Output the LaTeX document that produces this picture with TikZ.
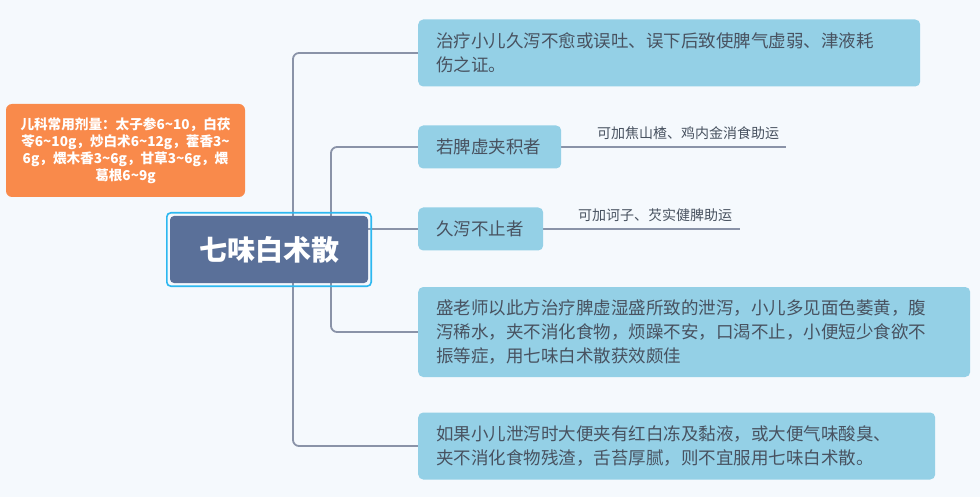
\documentclass[tikz,border=0pt]{standalone}
\usepackage{fontspec}
\setmainfont{Noto Sans CJK SC}
\usetikzlibrary{backgrounds}
\definecolor{bgc}{RGB}{245,249,253}
\definecolor{boxblue}{RGB}{148,208,230}
\definecolor{txt}{RGB}{72,82,96}
\definecolor{connc}{RGB}{138,147,168}
\definecolor{orng}{RGB}{249,138,75}
\definecolor{navy}{RGB}{90,112,153}
\definecolor{selc}{RGB}{45,184,240}
\tikzset{
  topic/.style={fill=boxblue, rounded corners=5pt, text=txt, font=\fontsize{17.5}{24}\selectfont, inner xsep=18pt, inner ysep=0pt, align=left, anchor=west},
  conn/.style={draw=connc, line width=1.8pt, rounded corners=6pt},
  note/.style={text=txt, font=\fontsize{14}{16}\selectfont, inner sep=0pt},
  dose/.style={fill=orng, rounded corners=6pt, text=white, font=\bfseries\fontsize{13.6}{17}\selectfont, align=center, inner sep=0pt},
  central/.style={fill=navy, rounded corners=4pt, text=white, font=\bfseries\fontsize{28}{30}\selectfont, inner sep=0pt},
  selframe/.style={draw=selc, line width=1.6pt, rounded corners=4pt}
}
\begin{document}
\begin{tikzpicture}[x=1pt,y=-1pt]
\begin{pgfonlayer}{background}
\fill[bgc] (0,0) rectangle (980,497);
\end{pgfonlayer}
\useasboundingbox (0,0) rectangle (980,497);

\node[dose, text width=229pt, minimum width=239pt, minimum height=93pt] (o) at (125.5,150.5)
  {儿科常用剂量：太子参6\textasciitilde10，白茯\\苓6\textasciitilde10g，炒白术6\textasciitilde12g，藿香3\textasciitilde\\6g，煨木香3\textasciitilde6g，甘草3\textasciitilde6g，煨\\葛根6\textasciitilde9g};

\node[central, minimum width=198pt, minimum height=67pt] (c) at (269,249.5) {七味白术散};
\draw[selframe] ([xshift=-3pt,yshift=-3pt]c.south west) rectangle ([xshift=3pt,yshift=3pt]c.north east);

\node[topic, text width=466pt, minimum height=67pt] (b1) at (418,53)
  {治疗小儿久泻不愈或误吐、误下后致使脾气虚弱、津液耗\\伤之证。};
\node[topic, text width=107pt, minimum height=43pt] (b2) at (418,147) {若脾虚夹积者};
\node[topic, text width=89pt, minimum height=43pt] (b3) at (418,229) {久泻不止者};
\node[topic, text width=516pt, minimum height=90pt] (b4) at (418,332)
  {盛老师以此方治疗脾虚湿盛所致的泄泻，小儿多见面色萎黄，腹\\泻稀水，夹不消化食物，烦躁不安，口渴不止，小便短少食欲不\\振等症，用七味白术散获效颇佳};
\node[topic, text width=481pt, minimum height=67pt] (b5) at (418,446)
  {如果小儿泄泻时大便夹有红白冻及黏液，或大便气味酸臭、\\夹不消化食物残渣，舌苔厚腻，则不宜服用七味白术散。};

\node[note] (l1) at (688,133) {可加焦山楂、鸡内金消食助运};
\node[note] (l2) at (655,215) {可加诃子、芡实健脾助运};

\coordinate (tx1) at (293,0);
\coordinate (tx2) at (331,0);
\coordinate (e1) at (786,0);
\coordinate (e2) at (740,0);

\begin{pgfonlayer}{background}
\draw[conn] (b1.west) -- (b1.west -| tx1) -- (b5.west -| tx1) -- (b5.west);
\draw[conn] (b2.west) -- (b2.west -| tx2) -- (b4.west -| tx2) -- (b4.west);
\draw[conn] (c.east |- b3.west) -- (b3.west);
\draw[conn] (b2.east) -- (b2.east -| e1);
\draw[conn] (b3.east) -- (b3.east -| e2);
\end{pgfonlayer}
\end{tikzpicture}
\end{document}
